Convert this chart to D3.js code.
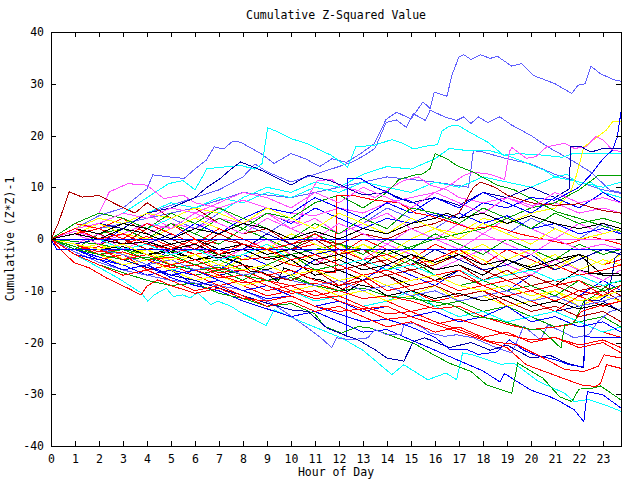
<!DOCTYPE html>
<html><head><meta charset="utf-8">
<script src="https://cdn.jsdelivr.net/npm/d3@7"></script>
<style>body{margin:0;background:#fff}svg{display:block}text{font-family:"DejaVu Sans Mono",monospace;font-size:11.5px;fill:#000}</style>
</head><body>
<svg id="c" width="640" height="480"></svg>
<script>
// ---------- text / ticks ----------
const chartTitle = "Cumulative Z-Squared Value";
const xLabel = "Hour of Day";
const yLabel = "Cumulative (Z*Z)-1";
const xTickValues = d3.range(0, 24);
const yTickValues = [-40, -30, -20, -10, 0, 10, 20, 30, 40];
const xDomain = [0, 23.75];
const yDomain = [-40, 40];

// ---------- hourly grid for the dense bundle ----------
const hours = [0,1,2,3,4,5,6,7,8,9,10,11,12,13,14,15,16,17,18,19,20,21,22,23,23.75];
const t01 = [0,3,2,4,1,3,0,-1,2,0,-2,-1,-3,0,-2,-4,-1,-3,-5,-2,-4,-6,-3,-5,-4];
const t02 = [0,-2,-1,-3,-5,-2,-4,-6,-3,-5,-7,-4,-6,-8,-5,-7,-9,-6,-8,-10,-7,-9,-11,-8,-10];
const t03 = [0,1,-1,2,0,3,1,-1,2,0,-2,1,-1,-3,0,-2,1,-1,-3,0,-2,-4,-1,-3,-2];
const t04 = [0,2,4,3,5,2,4,6,3,5,2,4,1,3,5,2,0,3,1,4,2,0,3,1,2];
const t05 = [0,-2,-1,-4,-2,-5,-3,-6,-4,-2,-5,-3,-1,-4,-6,-3,-5,-2,-4,-7,-5,-3,-6,-4,-5];
const t06 = [0,1,3,2,5,7,6,8,7,9,8,10,9,11,10,9,11,10,12,11,10,12,11,10,11];
const t07 = [0,-2,-3,-5,-4,-6,-5,-7,-6,-8,-7,-9,-8,-10,-9,-11,-10,-12,-11,-13,-12,-14,-13,-12,-14];
const t08 = [0,1,0,-2,-1,-3,-2,0,-1,-3,-2,-4,-6,-5,-7,-6,-8,-7,-9,-8,-10,-9,-11,-10,-12];
const t09 = [0,-1,-2,-1,-3,-2,-4,-3,-5,-6,-4,-7,-6,-8,-7,-9,-8,-6,-9,-8,-7,-9,-6,-7,-7];
const t10 = [0,-1,-3,-5,-7,-6,-8,-7,-9,-11,-10,-12,-11,-13,-12,-14,-13,-15,-14,-16,-15,-17,-16,-18,-19];
const t11 = [0,2,1,3,5,4,2,5,3,1,4,2,5,3,6,4,2,5,3,1,4,2,0,3,1];
const t12 = [0,-1,-2,-4,-3,-5,-7,-6,-8,-5,-7,-9,-8,-10,-9,-11,-13,-12,-14,-13,-15,-17,-16,-15,-17];
const t13 = [0,-1,1,-2,0,-3,-1,-4,-2,0,-3,-5,-2,-4,-1,-3,-6,-4,-2,-5,-7,-4,-6,-8,-6];
const t14 = [0,1,3,1,0,2,4,2,0,-2,1,-1,-3,-1,-4,-2,-5,-3,-1,-4,-2,-6,-3,-5,-3];
const t15 = [0,2,1,3,2,0,3,1,4,6,5,8,6,4,7,5,8,6,9,7,5,8,6,9,7];
const t16 = [0,-2,-4,-3,-6,-5,-7,-9,-8,-10,-9,-11,-10,-8,-11,-10,-12,-11,-10,-13,-12,-14,-11,-13,-12];
const t17 = [0,-1,-3,-2,-4,-6,-5,-7,-9,-8,-10,-12,-11,-13,-12,-10,-13,-15,-14,-16,-15,-14,-16,-18,-17];
const t18 = [0,2,1,-1,2,0,-2,1,-1,-3,-2,0,-3,-5,-4,-6,-5,-3,-6,-8,-7,-9,-8,-10,-9];
const t19 = [0,3,5,4,2,5,3,6,4,2,0,3,1,4,2,6,5,3,6,4,2,5,3,4,3];
const t20 = [0,-1,0,-2,-1,1,-1,-3,-2,1,-1,-3,-2,-4,-3,-5,-2,-4,-6,-5,-3,-6,-4,-2,-3];
const t21 = [0,-1,-3,-5,-4,-6,-8,-7,-9,-8,-10,-9,-11,-10,-12,-11,-9,-12,-11,-13,-12,-10,-13,-11,-12];
const t22 = [0,1,-1,1,3,2,5,3,1,4,2,0,3,1,-1,2,0,-2,1,-1,-3,0,-2,-1,-2];
const t23 = [0,-2,-4,-6,-5,-7,-6,-8,-10,-9,-11,-13,-12,-14,-13,-15,-14,-16,-15,-13,-16,-15,-17,-16,-18];
const t24 = [0,1,2,0,3,1,-1,2,0,-2,-1,1,-2,-4,-3,-5,-4,-2,-5,-4,-6,-5,-7,-6,-5];
const t25 = [0,1,0,2,1,-1,0,-2,-1,-3,-2,-4,-3,-5,-2,-4,-6,-5,-7,-4,-6,-5,-3,-7,-7];
const t26 = [0,-2,-3,-2,-4,-3,-5,-4,-6,-5,-3,-6,-5,-7,-6,-4,-7,-9,-8,-10,-9,-11,-8,-10,-9];
const t27 = [0,2,4,3,5,4,6,5,3,6,4,2,5,3,1,4,2,0,3,1,-1,2,0,1,2];
const t28 = [0,-3,-5,-7,-6,-8,-10,-9,-11,-13,-12,-14,-13,-15,-17,-16,-18,-17,-19,-18,-20,-19,-21,-20,-22];
const t29 = [0,1,0,-2,-1,-3,-2,-4,-3,-1,-4,-3,-5,-4,-6,-5,-7,-6,-8,-7,-6,-8,-7,-9,-8];
const t30 = [0,-1,-2,-3,-5,-4,-6,-5,-7,-6,-8,-9,-8,-10,-9,-11,-10,-12,-11,-10,-12,-11,-13,-12,-11];
const t31 = [0,-1,-2,-1,-3,-5,-4,-6,-5,-7,-8,-6,-9,-8,-7,-10,-9,-11,-10,-12,-14,-13,-15,-14,-16];
const t32 = [0,2,3,5,4,6,5,7,9,8,6,9,7,10,8,6,9,7,5,8,6,9,7,8,7];
const t33 = [0,-1,-2,-4,-3,-5,-4,-6,-5,-7,-6,-8,-9,-7,-10,-9,-8,-10,-9,-11,-10,-12,-10,-11,-10];
const t34 = [0,2,0,1,-1,-2,0,-3,-1,-2,-4,-3,-5,-7,-6,-8,-7,-6,-9,-8,-10,-9,-8,-11,-9];
const t35 = [0,-1,-2,-1,-3,-4,-3,-5,-6,-5,-7,-6,-8,-7,-9,-8,-7,-9,-10,-9,-11,-10,-12,-11,-10];
const bundle = [t01,t02,t03,t04,t05,t06,t07,t08,t09,t10,t11,t12,t13,t14,t15,t16,t17,t18,t19,t20,t21,t22,t23,t24,t25,t26,t27,t28,t29,t30,t31,t32,t33,t34,t35];
const bundleColors = ["red","blue","green","magenta","yellow","cyan","navy","darkred","black","red","lightblue","green","magenta","yellow","blue","red","cyan","darkred","green","navy","yellow","magenta","blue","red","black","green","yellow","red","cyan","lightblue","darkred","magenta","red","red","yellow"];

// ---------- individually traced lines: [hour, value] ----------
const topLightBlue = [[0,0],[1,2],[2,4.5],[3,6],[4,9.7],[4.24,12.4],[4.9,12],[5.55,11.7],[6.04,13.7],[6.46,15.2],[6.8,17.8],[7.2,17.4],[7.57,18.9],[7.9,18.7],[8.75,16.5],[9.3,14.6],[10,16.5],[10.6,15.5],[11.2,14],[11.7,15.5],[12.3,14.8],[12.9,16.5],[13.47,18.4],[13.96,23.1],[14.4,24.5],[15,23.2],[15.5,26.5],[15.8,25.2],[15.97,28.4],[16.5,27.6],[16.7,31.6],[17,35.2],[17.2,35.6],[17.5,34.7],[17.9,35.6],[18.3,34.9],[18.6,35.3],[19.2,33.4],[19.6,33.9],[20.1,31.6],[21,30],[21.7,28.1],[21.95,29.7],[22.25,30],[22.5,33.4],[22.9,31.9],[23.5,30.7],[23.75,30.5]];
const secondLightBlue = [[0,0],[1,1],[2,3],[3,2],[4,5],[5,6.5],[6,8],[7,9.5],[8,12],[8.5,14.5],[9,13],[10,11],[11,12.5],[12,14],[12.6,15],[13,16],[13.5,17.5],[13.96,22.5],[14.4,23],[14.8,21.6],[15.1,24.2],[15.6,22.9],[15.8,24.9],[16.4,23.6],[16.9,22.9],[17.2,23.6],[17.5,22.3],[17.8,23.6],[18.2,22.5],[18.7,23.6],[19.2,22],[20,20],[20.7,17.8],[21.7,15.2],[22.5,12.9],[23.3,9.4],[23.75,9]];
const thirdLightBlue = [[0,0],[2,2],[4,4],[6,6],[8,9],[10,8],[12,10],[14,12],[16,11],[17.4,10],[17.6,17.1],[18,16.8],[19,15.5],[20,14.5],[21,12.5],[22,11],[23,9.5],[23.75,8.8]];
const peakCyan = [[0,0],[1,1],[2,3],[3,5],[4,8],[4.9,10.7],[5.5,11.3],[6,9.5],[6.5,13.6],[7.9,14.2],[8.5,13.5],[8.8,14.6],[9.03,21.5],[9.45,20.7],[10,19.4],[10.7,18.4],[11.1,17.4],[11.67,16.2],[12.36,13.9],[12.7,17.8],[13.47,18.1],[14.2,19.2],[14.6,18.6],[15.1,17.4],[15.8,18.1],[16.1,18.2],[16.3,20.9],[16.6,21.8],[16.95,22],[17.3,21],[18.2,18.7],[18.85,16.2],[19.5,16.5],[20.5,16.2],[21.3,15.8],[21.8,16.6],[23.75,16.6]];
const fallingCyan = [[0,0],[1,-1],[2,1],[3,3],[4,2],[5,4],[6,6],[7,5],[8,8],[9,10],[10,9],[11,11],[12,10],[13,12.5],[14,14],[15,13.5],[16,15.5],[16.6,17.5],[17.5,17],[18.2,17.2],[19.2,15.8],[19.86,14.6],[20.55,13.3],[21,12],[21.5,12.5],[22,10.5],[22.5,11],[23,9],[23.75,8]];
const risingYellow = [[0,0],[1,-2],[2,-1],[3,-3],[4,-2],[5,-4],[6,-3],[7,-5],[8,-3],[9,-1],[10,-3],[11,-2],[12,-4],[13,-1],[14,-3],[15,0],[16,2],[17,1],[18,4],[19,3],[20,5],[21,6],[21.6,8.5],[21.9,12.4],[22.2,17.8],[22.7,19.5],[23.15,21.1],[23.4,22.7],[23.75,22.8]];
const risingBlue = [[0,0],[1,1],[2,-1],[3,2],[4,0],[5,3],[6,1],[7,4],[8,2],[9,5],[10,3],[11,6],[12,4],[13,2],[14,4],[15,3],[16,5],[17,4],[18,7],[19,6],[20,8],[21,7.5],[22,10],[22.5,12.5],[23,15.5],[23.4,17.2],[23.6,19.8],[23.75,24.6]];
const upperMagenta = [[0,0],[1,3],[2,5],[2.43,9.1],[3.2,10.7],[4,10.4],[4.7,7.8],[5.5,8.5],[6,7],[7,6],[8,7.5],[9,6],[10,5],[11,4.5],[12,6],[13,5],[14,7],[15,8],[16,9],[16.5,10],[17.2,12.3],[17.6,12.9],[18.3,12.5],[18.9,11.5],[19.1,16.9],[19.2,17.7],[19.8,15.6],[20.2,15.9],[20.65,17.8],[21.4,18.5],[21.8,17.5],[22.3,17.8],[22.7,19.8],[23,19.1],[23.4,17.2],[23.75,16.9]];
const midMagenta = [[0,0],[1,1.5],[2,0],[3,2],[4,1],[5,3],[6,2],[7,4],[8,3],[9,5],[9.5,4],[10.3,3],[10.75,8.5],[11.1,11.3],[11.7,11.5],[12.1,10],[12.7,9.5],[13.5,8],[14,9.5],[14.7,11.3],[15.3,12],[15.8,10.4],[16.5,9.5],[17,8],[18,7],[19,8],[20,6.5],[21,7],[22,5],[23,6],[23.75,5]];
const upperGreen = [[0,0],[1,-2],[2,1],[3,2],[4,0],[5,3],[6,1],[7,4],[8,2],[9,5],[10,4],[11,7],[12,8.5],[13,6],[14,9],[14.5,11.5],[15.1,12.3],[15.5,12.6],[15.8,13.6],[16,16.5],[16.5,15.5],[16.9,14.2],[17.6,12.9],[18.6,10.4],[19.3,9.5],[20,7.8],[21.1,5.2],[22,4],[23,2.5],[23.75,1.5]];
const lateGreen = [[0,0],[2,-1],[4,-3],[6,-2],[8,-4],[10,-3],[12,-1],[14,-3],[16,0],[18,2],[19,4],[20,6],[21,7],[22,9.5],[22.8,12.3],[23.75,12.3]];
const upperNavy = [[0,0],[1,1],[2,3],[3,2],[4,5],[5,6],[6,8],[6.5,10],[7,11.5],[7.5,13.5],[7.9,14.9],[8.75,13.3],[10,10.4],[10.7,12.3],[11.25,11.7],[11.6,11.3],[12.1,10.4],[12.5,9.5],[13,8.5],[14,9],[15,7],[16,8],[17,6.5],[18,9],[19,8],[20,10],[20.5,9],[21,8],[21.6,9.7],[21.65,17.8],[22.1,17.8],[22.5,16.8],[23,17.5],[23.75,17.5]];
const jumpBlue = [[0,0],[1,-2],[2,-3.5],[3,-5],[4,-4],[5,-6],[6,-7],[7,-9],[7.9,-10.8],[9,-12.4],[10,-13.7],[10.7,-14],[11.5,-17.2],[12.2,-18.5],[12.3,-18.8],[12.35,11.6],[12.9,11.7],[13.5,10],[14,9.1],[14.45,7.8],[14.9,7.5],[15.3,6.5],[15.7,4.9],[16.5,4],[17,5],[18,3],[19,4.5],[20,2],[21,3],[22,1],[23,2],[23.75,1]];
const earlyDarkRed = [[0,0],[0.3,3],[0.76,9.1],[1.3,8.1],[2,8.4],[2.8,6.5],[3.5,5],[4,7],[5,4],[6,6],[7,3],[8,1],[9,2],[10,-1],[11,0],[12,-3],[13,-2],[14,-5],[15,-3],[16,-6],[17,-5],[18,-8],[19,-6],[20,-9],[21,-8],[22,-10],[23,-9],[23.75,-11]];
const lateDarkRed = [[0,0],[1,1],[2,-1],[3,0],[4,-2],[5,-1],[6,-3],[7,-2],[8,-1],[9,-3],[10,-2],[11,0],[12,-1],[13,1],[14,0],[15,2],[16,3],[17,5],[17.6,10],[17.9,11],[18.5,10],[19,8.5],[20,7],[21,6.5],[22,6.8],[23,5.5],[23.75,5]];
const jumpRed = [[0,0],[1,2],[2,1],[3,-1],[4,0.5],[5,-1.5],[6,-3],[7,-2],[8,-4],[9,-3.5],[10,-5],[11,-6],[11.85,-6.5],[11.9,8.4],[12.5,8.5],[13.5,7.5],[14.5,7],[15.2,5],[15.8,4.5],[16.5,3.5],[17.5,2],[18.5,2.5],[19.5,1],[20.5,0],[21.5,-1],[22.5,0.5],[23.75,-1]];
const lowCyan = [[0,0],[1,-3],[2,-5.5],[2.78,-7.5],[3.75,-10.4],[4.03,-12],[4.3,-10.8],[4.8,-9.5],[5.1,-11.1],[5.5,-10.8],[5.8,-11.4],[6.1,-10.4],[6.67,-12.7],[6.94,-12],[7.5,-13],[7.9,-14.2],[8.96,-16.7],[9.3,-13.7],[10.55,-16.2],[12.1,-19.1],[13,-21.5],[14.2,-26.2],[14.7,-24.3],[15.7,-27.2],[16.46,-25.9],[16.9,-27.2],[17.15,-22],[17.57,-22.4],[18.75,-24.2],[19.3,-24],[20.3,-27.5],[21.4,-29.8],[21.8,-31.4],[22.4,-31],[23.05,-32],[23.75,-33.3]];
const lowBlue = [[0,0],[1,-2],[2,-4],[3,-5],[4,-7],[5,-6],[6,-9],[7,-10],[8,-12],[9,-13.5],[10,-15],[11,-14],[12,-16],[13,-18],[14,-17.5],[15,-19.5],[15.8,-21.1],[16.6,-22.7],[17.1,-23.7],[18,-25.5],[18.7,-27.6],[18.9,-26],[19.3,-27.2],[20,-29.2],[20.8,-30.5],[21.2,-31.4],[21.8,-33],[22.2,-35.3],[22.35,-29.5],[23,-30.1],[23.75,-32.7]];
const lowGreen = [[0,0],[1,-3],[2,-5],[3,-6.5],[4,-8],[5,-9],[6,-8.5],[7,-10.5],[8,-11.5],[9,-13],[10,-12.5],[11,-14.5],[11.4,-16.9],[12.1,-18.2],[12.8,-16.9],[13.3,-17.2],[13.9,-18.2],[14.4,-19.1],[15.1,-20.1],[15.8,-22],[16.6,-24],[17.5,-25.6],[18.15,-28.2],[19.2,-29.8],[19.45,-24],[20.5,-26.9],[21.2,-30.5],[21.7,-31.4],[22,-29],[22.5,-28.9],[22.9,-28.4],[23.75,-31.1]];
const lowLightBlue = [[0,0],[1,-2.5],[2,-4.5],[3,-6],[4,-7],[5,-8],[6,-8.5],[7,-9],[7.9,-9.8],[8.6,-11.1],[9.3,-12.7],[10,-14.9],[10.7,-17.2],[11.25,-19.1],[11.7,-21],[11.9,-19.1],[12.5,-19.5],[13.2,-19.1],[13.5,-17.5],[14,-18.5],[14.6,-18.5],[14.7,-16.6],[15.1,-16.2],[15.5,-17.2],[15.8,-18.2],[16.4,-18.8],[16.9,-18.5],[17.6,-19.1],[18.6,-21.1],[19.2,-22],[19.7,-16.9],[20.4,-19.5],[20.7,-16.6],[21.25,-17.8],[21.8,-19.1],[22.4,-18.5],[22.8,-15.9],[23.3,-14],[23.75,-13.5]];
const lowNavy = [[0,0],[1,-1.5],[2,-3],[3,-4],[4,-5.5],[5,-7],[6,-8],[7,-9.5],[7.9,-10.8],[9,-12.4],[10,-13.7],[10.7,-14],[11.5,-17.2],[12.2,-18.5],[12.8,-19.5],[13.5,-21.4],[14,-23],[14.7,-23.6],[15.1,-19.8],[15.55,-19.1],[15.8,-19.5],[16.6,-21],[17.5,-20],[18.3,-21.5],[19,-20.5],[20,-23],[20.8,-22.5],[21.5,-24],[22.2,-24.9],[22.25,-12],[22.36,-11.7],[22.8,-12],[23.2,-10.8],[23.4,-6.6],[23.5,-3.7],[23.75,-2.5]];
const stepBlue = [[0,0],[1,-3],[2,-4],[3,-6],[4,-5],[5,-7.5],[6,-9],[7,-8],[8,-10],[9,-11.5],[10,-11],[11,-13],[12,-14.5],[13,-16],[14,-15.5],[15,-17],[16,-19],[16.6,-21.3],[17.3,-21.3],[17.8,-22.3],[18.6,-21.8],[19.1,-19.5],[19.7,-21.5],[20.2,-22.5],[21,-23.3],[21.6,-24.3],[22.2,-24.7],[22.25,-18.9],[22.8,-19],[23.75,-19]];
const lowRedA = [[0,0],[1,-1],[2,-3],[3,-2.5],[4,-4],[5,-5.5],[6,-5],[7,-7],[8,-8.5],[9,-8],[10,-10],[11,-11.5],[12,-11],[13,-13],[14,-14.5],[15,-14],[16,-16],[17,-17.5],[18.3,-19.8],[19.4,-20.4],[20.4,-22.7],[21.4,-25.2],[22.2,-25.6],[22.8,-24.6],[23.05,-22.4],[23.4,-22.7],[23.75,-23]];
const lowRedB = [[0,0],[1,-2],[2,-1.5],[3,-3],[4,-5],[5,-4],[6,-6],[7,-7.5],[8,-7],[9,-9],[10,-10.5],[11,-10],[12,-12],[13,-13.5],[14,-13],[15,-15],[16,-16.5],[17,-18],[18,-19.5],[19,-21],[19.8,-24.3],[20.8,-26],[21.5,-27.2],[22.1,-28.2],[22.7,-28.5],[22.9,-27.9],[23.15,-24.3],[23.75,-25]];
const lowRedC = [[0,0],[1,-1],[2,-2.5],[3,-2],[4,-4],[5,-3.5],[6,-5],[7,-6.5],[8,-6],[9,-8],[10,-9],[11,-8.5],[12,-10],[13,-11.5],[14,-11],[15,-12],[16,-13.5],[17,-13],[18,-15],[19,-16.5],[20,-17.5],[21,-17],[21.7,-16.5],[22.1,-14],[22.8,-13],[23.75,-12]];
const earlyRed = [[0,0],[0.5,-2.5],[0.97,-4.6],[1.6,-5.6],[2.3,-7.5],[3.2,-9.5],[3.75,-10.8],[4,-9.1],[4.45,-7.9],[5,-9],[6,-10.5],[7,-9.5],[8,-11.5],[9,-12],[10,-11],[11,-13],[12,-14],[13,-13.5],[14,-15.5],[15,-15],[16,-16.5],[17,-15.5],[18,-17],[19,-18.5],[20,-19.5],[21,-19],[22,-20.5],[23,-19.5],[23.75,-21]];
const jumpGreen = [[0,0],[1,-1.5],[2,-3],[3,-4],[4,-3.5],[5,-5],[6,-6],[7,-5.5],[8,-7],[9,-8],[10,-7.5],[11,-9],[12,-10],[13,-9.5],[14,-11],[15,-11.5],[15.8,-12],[16.7,-12.7],[17.6,-14.9],[18.6,-15.6],[20,-17.5],[20.4,-17.5],[20.8,-19.1],[21.25,-21.1],[21.4,-16.6],[21.8,-16.2],[22.2,-12],[22.6,-11.1],[23.3,-8.5],[23.75,-8.2]];
const blackA = [[0,0],[1,-1],[2,-2],[3,-1.5],[4,-3],[5,-2.5],[6,-4],[7,-3.5],[7.9,-4.6],[8.3,-6.2],[8.9,-6.6],[9.45,-8.2],[9.7,-5.6],[10.3,-6.6],[10.7,-7.5],[11.25,-7.9],[12.35,-10.1],[12.8,-8.8],[13.5,-9.5],[14,-11],[15,-10],[16,-11.5],[17,-10.5],[18,-12],[19,-11],[20,-13],[21,-12],[22,-13.5],[23,-12.5],[23.75,-14]];
const blackB = [[0,0],[1,1],[2,0],[3,-1],[4,-0.5],[5,-2],[6,-1],[7,-3],[8,-2],[9,-4],[10,-3],[11,-5],[12,-4],[13,-6],[14,-5],[15,-3],[16,-4.5],[17,-3],[18,-5],[19,-4],[20,-5.5],[21,-4],[22,-3],[22.35,-3.5],[22.4,-6.6],[23.6,-6.6],[23.75,-7]];
const blackC = [[0,0],[1,2],[2,1],[3,3],[4,2],[5,0],[6,2],[7,1],[8,3],[9,2],[10,0],[11,1.5],[12,0],[13,2],[14,1],[15,3],[16,4],[16.5,5],[17,4],[18,5],[19,3],[20,4.5],[21,3],[22,2],[23,3],[23.75,2]];
const flatZeroBlue = [[0,0],[23.75,0]];
const flatZeroMagenta = [[16,0],[23.75,0]];
const flatLowBlue = [[0,0],[0.25,-2.1],[23.75,-2.1]];
const traced = [topLightBlue,secondLightBlue,thirdLightBlue,peakCyan,fallingCyan,risingYellow,risingBlue,upperMagenta,midMagenta,upperGreen,lateGreen,upperNavy,jumpBlue,earlyDarkRed,lateDarkRed,jumpRed,lowCyan,lowBlue,lowGreen,lowLightBlue,lowNavy,stepBlue,lowRedA,lowRedB,lowRedC,earlyRed,jumpGreen,blackA,blackB,blackC,flatZeroBlue,flatZeroMagenta,flatLowBlue];
const tracedColors = ["lightblue","lightblue","lightblue","cyan","cyan","yellow","blue","magenta","magenta","green","green","navy","blue","darkred","darkred","red","cyan","blue","green","lightblue","navy","blue","red","red","red","red","green","black","black","black","blue","magenta","blue"];

const palette = {red:"#ff0000",blue:"#0000ff",lightblue:"#5f5fff",navy:"#0000a8",green:"#00a000",cyan:"#00ffff",magenta:"#ff4cff",yellow:"#ffff00",darkred:"#b00000",black:"#000000"};

// ---------- drawing ----------
const W = 640, H = 480;
const m = {left: 51, right: 19, top: 32, bottom: 34};
const svg = d3.select("#c");
const x = d3.scaleLinear().domain(xDomain).range([m.left, W - m.right]);
const y = d3.scaleLinear().domain(yDomain).range([H - m.bottom, m.top]);

svg.append("rect").attr("width", W).attr("height", H).attr("fill", "#fff");
svg.append("clipPath").attr("id", "pc").append("rect")
  .attr("x", m.left).attr("y", m.top).attr("width", W - m.left - m.right).attr("height", H - m.top - m.bottom);

const line = d3.line().x(d => x(d[0])).y(d => y(d[1]));
const g = svg.append("g").attr("clip-path", "url(#pc)");

const bundleData = bundle.map((vals, i) => ({pts: vals.map((v, k) => [hours[k], v]), color: bundleColors[i]}));
const tracedData = traced.map((pts, i) => ({pts, color: tracedColors[i]}));
const allData = [];
// interleave so colours mix like the reference
const n = Math.max(bundleData.length, tracedData.length);
for (let i = 0; i < n; i++) { if (bundleData[i]) allData.push(bundleData[i]); if (tracedData[i]) allData.push(tracedData[i]); }

g.selectAll("path.s").data(allData).join("path").attr("class", "s")
  .attr("d", d => line(d.pts)).attr("fill", "none")
  .attr("stroke", d => palette[d.color]).attr("stroke-width", 1)
  .attr("shape-rendering", "crispEdges");

// axes with inward ticks
const fmt = d => String(d);
const xb = svg.append("g").attr("transform", `translate(0,${H - m.bottom})`)
  .call(d3.axisBottom(x).tickValues(xTickValues).tickSizeInner(-5).tickSizeOuter(0).tickPadding(9).tickFormat(fmt));
const xt = svg.append("g").attr("transform", `translate(0,${m.top})`)
  .call(d3.axisTop(x).tickValues(xTickValues).tickSizeInner(-5).tickSizeOuter(0).tickFormat(""));
const yl = svg.append("g").attr("transform", `translate(${m.left},0)`)
  .call(d3.axisLeft(y).tickValues(yTickValues).tickSizeInner(-5).tickSizeOuter(0).tickPadding(7).tickFormat(fmt));
const yr = svg.append("g").attr("transform", `translate(${W - m.right},0)`)
  .call(d3.axisRight(y).tickValues(yTickValues).tickSizeInner(-5).tickSizeOuter(0).tickFormat(""));
[xb, xt, yl, yr].forEach(a => {
  a.select(".domain").remove();
  a.selectAll("line").attr("stroke", "#000").attr("shape-rendering", "crispEdges");
  a.selectAll("text").attr("font-family", null).attr("font-size", null).attr("fill", "#000");
});

svg.append("rect").attr("x", m.left + 0.5).attr("y", m.top + 0.5)
  .attr("width", W - m.left - m.right).attr("height", H - m.top - m.bottom)
  .attr("fill", "none").attr("stroke", "#000").attr("stroke-width", 1).attr("shape-rendering", "crispEdges");

svg.append("text").attr("x", (m.left + W - m.right) / 2).attr("y", 19).attr("text-anchor", "middle").text(chartTitle);
svg.append("text").attr("x", (m.left + W - m.right) / 2).attr("y", 476).attr("text-anchor", "middle").text(xLabel);
svg.append("text").attr("transform", `translate(14,${(m.top + H - m.bottom) / 2}) rotate(-90)`).attr("text-anchor", "middle").text(yLabel);
</script>
</body></html>
